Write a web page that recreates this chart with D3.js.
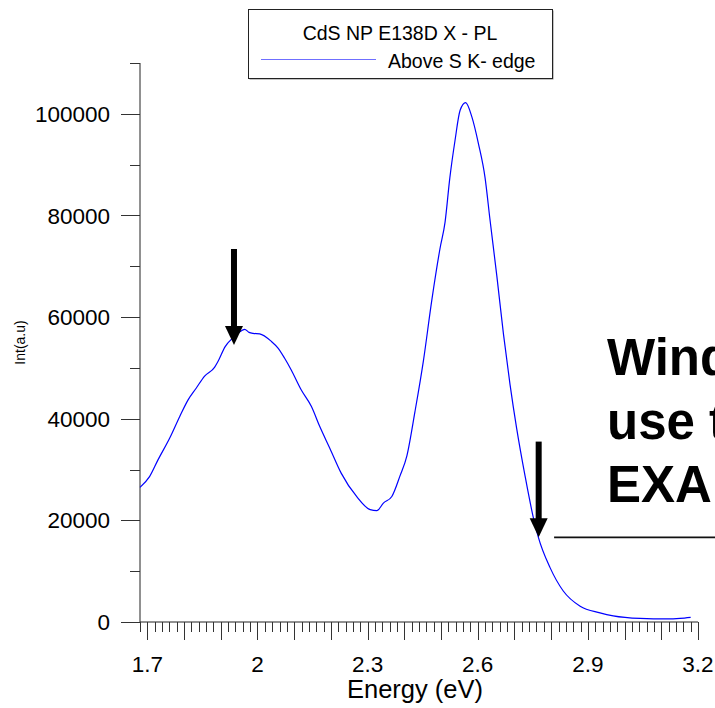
<!DOCTYPE html>
<meta charset="utf-8">
<style>
    body { margin: 0; background: #fff; }
    svg { display: block; font-family: Arial, "Liberation Sans", sans-serif; }
    .line { fill: none; stroke: #0000ff; stroke-width: 1.2px; }
    .tick-label { font-size: 22.5px; fill: #000; }
</style>
<body>
<script src="https://d3js.org/d3.v7.min.js"></script>
<script>
    // PL spectrum (energy in eV, intensity in a.u.)
    var energy = [1.680, 1.706, 1.729, 1.761, 1.788, 1.811, 1.833, 1.856, 1.883, 1.892,
                  1.912, 1.933, 1.947, 1.965, 1.977, 1.988, 2.006, 2.038, 2.056, 2.074,
                  2.092, 2.119, 2.147, 2.170, 2.197, 2.228, 2.270, 2.307, 2.325, 2.343,
                  2.366, 2.388, 2.407, 2.429, 2.452, 2.475, 2.497, 2.511, 2.524, 2.538,
                  2.552, 2.567, 2.584, 2.602, 2.620, 2.633, 2.652, 2.670, 2.688, 2.706,
                  2.729, 2.751, 2.765, 2.797, 2.833, 2.879, 2.933, 2.969, 3.042, 3.115,
                  3.151, 3.180];
    var intensity = [26500, 28600, 31900, 36200, 40400, 43700, 46000, 48400, 50100, 51200,
                     54200, 55900, 56800, 57600, 57000, 56800, 56700, 55200, 53900, 51900,
                     49600, 45700, 42400, 38400, 34200, 29300, 24700, 22100, 21900, 23400,
                     24700, 28700, 32700, 41400, 51400, 63400, 73400, 78700, 87400, 94700,
                     100700, 102200, 99400, 94100, 87400, 79400, 68100, 56700, 46700, 38100,
                     28700, 20700, 16700, 10700, 6100, 3100, 1800, 1200, 700, 600,
                     700, 900];

    var xTickLabels = [1.7, 2.0, 2.3, 2.6, 2.9, 3.2];
    var yTickLabels = [0, 20000, 40000, 60000, 80000, 100000];

    var legendTitle = "CdS NP E138D X - PL";
    var seriesName = "Above S K- edge";
    var noteLines = ["Window", "use the", "EXAMPLE"];

    // arrows: [energy, tip intensity, tail intensity]
    var arrows = [[1.936, 54500, 73400], [2.766, 16700, 35500]];
    var markLevel = {from: 2.808, value: 16670};

    var W = 715, H = 708;
    var x = d3.scaleLinear().domain([1.68, 3.2]).range([140, 698]);
    var y = d3.scaleLinear().domain([0, 110000]).range([622, 63]);

    var svg = d3.select("body").append("svg")
        .attr("width", W)
        .attr("height", H);

    // y axis
    var yAx = svg.append("g").attr("transform", "translate(140,0)");
    yAx.append("line").attr("y1", y(0)).attr("y2", y(110000)).attr("stroke", "#222");
    d3.range(0, 110001, 10000).forEach(function(v) {
        var major = v % 20000 === 0;
        yAx.append("line")
            .attr("x1", major ? -19 : -10).attr("x2", 0)
            .attr("y1", Math.round(y(v)) + 0.5).attr("y2", Math.round(y(v)) + 0.5)
            .attr("stroke", "#333");
    });
    yAx.selectAll("text.tick-label").data(yTickLabels).enter().append("text")
        .attr("class", "tick-label")
        .attr("x", -30)
        .attr("y", function(d) { return y(d); })
        .attr("dy", "0.36em")
        .attr("text-anchor", "end")
        .text(function(d) { return d; });

    // x axis
    var xAx = svg.append("g").attr("transform", "translate(0," + y(0) + ")");
    xAx.append("line").attr("x1", x(1.68)).attr("x2", x(3.2)).attr("stroke", "#222");
    d3.range(0, 77).forEach(function(i) {
        var e = 1.68 + i * 0.02;
        var major = i % 5 === 1;
        xAx.append("line")
            .attr("x1", Math.round(x(e)) + 0.5).attr("x2", Math.round(x(e)) + 0.5)
            .attr("y1", 0).attr("y2", major ? 18 : 10)
            .attr("stroke", "#333");
    });
    xAx.selectAll("text.tick-label").data(xTickLabels).enter().append("text")
        .attr("class", "tick-label")
        .attr("x", function(d) { return x(d); })
        .attr("y", 50)
        .attr("text-anchor", "middle")
        .text(function(d) { return d3.format("")(d); });

    svg.append("text")
        .attr("x", 415).attr("y", 698)
        .attr("text-anchor", "middle")
        .style("font-size", "25.5px")
        .text("Energy (eV)");

    svg.append("text")
        .attr("transform", "translate(25," + (y(55000)) + ") rotate(-90)")
        .attr("text-anchor", "middle")
        .style("font-size", "14px")
        .text("Int(a.u)");

    // spectrum
    var data = energy.map(function(e, i) { return {e: e, v: intensity[i]}; });
    svg.append("path")
        .datum(data)
        .attr("class", "line")
        .attr("d", d3.line()
            .curve(d3.curveMonotoneX)
            .x(function(d) { return x(d.e); })
            .y(function(d) { return y(d.v); }));

    // legend
    var lg = svg.append("g");
    lg.append("rect").attr("x", 249.5).attr("y", 10.5).attr("width", 304).attr("height", 69)
        .attr("fill", "#888").attr("stroke", "none");
    lg.append("rect").attr("x", 248.5).attr("y", 9.5).attr("width", 304).attr("height", 69)
        .attr("fill", "#fff").attr("stroke", "#222");
    lg.append("text").attr("x", 400).attr("y", 40).attr("text-anchor", "middle")
        .style("font-size", "19.5px").text(legendTitle);
    lg.append("line").attr("x1", 261).attr("x2", 376).attr("y1", 59.5).attr("y2", 59.5)
        .attr("stroke", "#6f6fff").attr("stroke-width", 1.2);
    lg.append("text").attr("x", 388).attr("y", 67.5)
        .style("font-size", "19.5px").text(seriesName);

    // arrows
    arrows.forEach(function(a) {
        var cx = x(a[0]), tip = y(a[1]), tail = y(a[2]);
        svg.append("rect").attr("x", cx - 3).attr("y", tail).attr("width", 6).attr("height", tip - tail - 16)
            .attr("fill", "#000");
        svg.append("path")
            .attr("d", "M" + (cx - 9) + "," + (tip - 19) + "L" + (cx + 9) + "," + (tip - 19) + "L" + cx + "," + tip + "Z")
            .attr("fill", "#000");
    });
    svg.append("line")
        .attr("x1", x(markLevel.from)).attr("x2", W)
        .attr("y1", y(markLevel.value)).attr("y2", y(markLevel.value))
        .attr("stroke", "#111").attr("stroke-width", 1.8);

    // overlay note (runs off the right edge, as in the original)
    svg.append("g").selectAll("text").data(noteLines).enter().append("text")
        .attr("x", 607)
        .attr("y", function(d, i) { return 375 + i * 63.5; })
        .style("font-size", "51px")
        .style("font-weight", "bold")
        .text(function(d) { return d; });
</script>
</body>
